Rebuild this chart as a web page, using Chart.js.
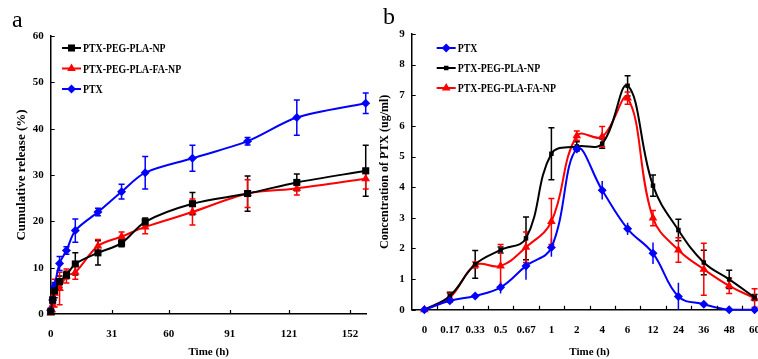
<!DOCTYPE html>
<html lang="en">
<head>
<meta charset="UTF-8">
<title>PTX release and plasma concentration</title>
<script src="https://cdn.jsdelivr.net/npm/chart.js@4.4.0/dist/chart.umd.min.js"></script>
<style>
    body {
        margin: 0;
        width: 758px;
        height: 359px;
        overflow: hidden;
        position: relative;
        background: #fff;
        font-family: 'Liberation Serif', 'Times New Roman', serif;
    }
    .panel-label {
        position: absolute;
        font-size: 24px;
        line-height: 24px;
        color: #000;
    }
    #releaseChart { position: absolute; left: 0; top: 0; }
    #plasmaChart { position: absolute; left: 374px; top: 0; }
</style>
</head>
<body>
<canvas id="releaseChart" width="380" height="359"></canvas>
<canvas id="plasmaChart" width="406" height="359"></canvas>
<div class="panel-label" style="left:12px; top:7px;">a</div>
<div class="panel-label" style="left:383px; top:4px;">b</div>

<script>
// ---- panel a: in vitro release ----
const releaseTimes = [0, 1, 2, 4.5, 8, 12.5, 24, 36, 48, 72, 100, 125, 160];
const releaseTicks = [0, 31, 60, 91, 121, 152];
const npRelease    = [0.5, 3.0, 5.0, 7.0, 8.4, 10.8, 13.2, 15.3, 19.9, 23.8, 26.0, 28.4, 30.9];
const npReleaseErr = [0.3, 0.8, 1.5, 1.2, 0.8, 2.4, 2.6, 0.8, 0.8, 2.4, 3.8, 1.8, 5.5];
const faRelease    = [0.2, 2.0, 4.5, 5.5, 8.2, 9.0, 14.7, 16.7, 18.8, 22.0, 26.0, 27.1, 29.2];
const faReleaseErr = [0.5, 1.5, 3.0, 3.5, 1.5, 1.5, 1.4, 1.0, 1.5, 2.8, 3.0, 1.4, 2.2];
const ptxRelease    = [0.8, 3.0, 6.0, 10.9, 13.7, 18.0, 22.0, 26.4, 30.5, 33.6, 37.3, 42.4, 45.5];
const ptxReleaseErr = [0.5, 0.6, 0.8, 1.5, 0.8, 2.5, 0.8, 1.6, 3.5, 2.8, 0.8, 3.8, 2.2];

// ---- panel b: plasma concentration ----
const timeLabels = ['0', '0.17', '0.33', '0.5', '0.67', '1', '2', '4', '6', '12', '24', '36', '48', '60'];
const ptxConc    = [0, 0.29, 0.45, 0.73, 1.43, 2.03, 5.25, 3.9, 2.64, 1.84, 0.43, 0.18, 0, 0];
const ptxConcErr = [0, 0.1, 0.08, 0.2, 0.45, 0.3, 0.1, 0.3, 0.2, 0.35, 0.45, 0.05, 0, 0];
const npConc     = [0, 0.45, 1.48, 1.95, 2.33, 5.09, 5.33, 5.42, 7.31, 4.05, 2.6, 1.54, 0.99, 0.4];
const npConcErr  = [0, 0.12, 0.45, 0.1, 0.7, 0.85, 0.15, 0.15, 0.33, 0.35, 0.35, 0.4, 0.3, 0.1];
const faConc     = [0, 0.39, 1.46, 1.43, 2.04, 2.88, 5.68, 5.65, 6.91, 2.99, 1.95, 1.32, 0.78, 0.38];
const faConcErr  = [0, 0.15, 0.1, 0.7, 0.5, 0.75, 0.15, 0.33, 0.2, 0.25, 0.4, 0.85, 0.25, 0.3];

const SERIF = "'Liberation Serif', 'Times New Roman', serif";
Chart.defaults.color = '#000';
Chart.defaults.font.family = SERIF;

function drawMarker(ctx, style, r, x, y, color) {
    ctx.fillStyle = color;
    ctx.beginPath();
    if (style === 'rect') {
        const s = r * Math.SQRT1_2;
        ctx.rect(x - s, y - s, 2 * s, 2 * s);
    } else if (style === 'rectRot') {
        ctx.moveTo(x, y - r); ctx.lineTo(x + r, y); ctx.lineTo(x, y + r); ctx.lineTo(x - r, y);
        ctx.closePath();
    } else {
        ctx.moveTo(x, y - r);
        ctx.lineTo(x + r * 0.866, y + r * 0.5);
        ctx.lineTo(x - r * 0.866, y + r * 0.5);
        ctx.closePath();
    }
    ctx.fill();
}

// error bars, drawn under lines and markers
const errorBars = {
    id: 'errorBars',
    beforeDatasetsDraw(chart) {
        const ctx = chart.ctx;
        const yScale = chart.scales.y;
        chart.data.datasets.forEach((ds, i) => {
            if (!ds.errors) return;
            const meta = chart.getDatasetMeta(i);
            ctx.save();
            ctx.strokeStyle = ds.borderColor;
            ctx.lineWidth = 1.5;
            meta.data.forEach((pt, j) => {
                const v = ds.data[j].y !== undefined ? ds.data[j].y : ds.data[j];
                const e = ds.errors[j];
                if (!e) return;
                const top = yScale.getPixelForValue(v + e);
                const bot = yScale.getPixelForValue(Math.max(0, v - e));
                ctx.beginPath();
                ctx.moveTo(pt.x, top); ctx.lineTo(pt.x, bot);
                if (ds.capWidth) {
                    const c = ds.capWidth / 2;
                    ctx.moveTo(pt.x - c, top); ctx.lineTo(pt.x + c, top);
                    ctx.moveTo(pt.x - c, bot); ctx.lineTo(pt.x + c, bot);
                }
                ctx.stroke();
            });
            ctx.restore();
        });
    }
};

// small tick marks pointing into the plot
const innerTicks = {
    id: 'innerTicks',
    afterDraw(chart) {
        const {ctx, chartArea, scales} = chart;
        ctx.save();
        ctx.strokeStyle = '#000';
        ctx.lineWidth = 1.2;
        ctx.beginPath();
        scales.y.ticks.forEach((t, i) => {
            const py = Math.round(scales.y.getPixelForTick(i)) + 0.5;
            ctx.moveTo(chartArea.left, py); ctx.lineTo(chartArea.left + 4, py);
        });
        const xs = scales.x;
        if (xs.type === 'category') {
            for (let i = 0; i < timeLabels.length - 1; i++) {
                const px = Math.round(xs.getPixelForValue(i + 0.5)) + 0.5;
                ctx.moveTo(px, chartArea.bottom); ctx.lineTo(px, chartArea.bottom - 4);
            }
        } else {
            xs.ticks.forEach((t, i) => {
                const px = Math.round(xs.getPixelForTick(i)) + 0.5;
                ctx.moveTo(px, chartArea.bottom); ctx.lineTo(px, chartArea.bottom - 4);
            });
        }
        ctx.stroke();
        ctx.restore();
    }
};

// legend drawn inside the plot, line + marker + label
const insideLegend = {
    id: 'insideLegend',
    afterDraw(chart, args, opts) {
        const ctx = chart.ctx;
        ctx.save();
        ctx.font = 'bold 12px ' + SERIF;
        ctx.textBaseline = 'middle';
        chart.data.datasets.forEach((ds, i) => {
            const y = opts.y + i * opts.gap;
            ctx.strokeStyle = ds.borderColor;
            ctx.lineWidth = 2;
            ctx.beginPath();
            ctx.moveTo(opts.x, y); ctx.lineTo(opts.x + 19, y);
            ctx.stroke();
            drawMarker(ctx, ds.pointStyle, ds.pointRadius, opts.x + 9.5, y, ds.borderColor);
            ctx.save();
            ctx.translate(opts.x + 21, y + 1);
            ctx.scale(0.82, 1);
            ctx.fillStyle = '#000';
            ctx.fillText(ds.label, 0, 0);
            ctx.restore();
        });
        ctx.restore();
    }
};

const tickFont = {family: SERIF, size: 11, weight: 'bold'};
const axisBorder = {display: true, color: '#000', width: 1.5};
const noGrid = {display: false, drawTicks: false};

function series(label, ys, errs, color, style, radius, cap) {
    return {
        label: label,
        data: ys,
        errors: errs,
        capWidth: cap,
        borderColor: color,
        backgroundColor: color,
        borderWidth: 2,
        pointStyle: style,
        pointRadius: radius,
        pointBorderWidth: 0,
        pointBackgroundColor: color,
        clip: false
    };
}

const toXY = ys => ys.map((y, i) => ({x: releaseTimes[i], y: y}));

new Chart(document.getElementById('releaseChart'), {
    type: 'line',
    data: {
        datasets: [
            series('PTX-PEG-PLA-NP', toXY(npRelease), npReleaseErr, '#000000', 'rect', 5, 6),
            series('PTX-PEG-PLA-FA-NP', toXY(faRelease), faReleaseErr, '#ff0000', 'triangle', 5, 6),
            series('PTX', toXY(ptxRelease), ptxReleaseErr, '#0000ff', 'rectRot', 4.5, 6)
        ]
    },
    options: {
        responsive: false,
        animation: false,
        elements: {line: {tension: 0.3}},
        layout: {padding: {left: 0, top: 36, right: 13.3, bottom: 0}},
        plugins: {
            legend: {display: false},
            tooltip: {enabled: false},
            insideLegend: {x: 62, y: 48, gap: 20.5}
        },
        scales: {
            x: {
                type: 'linear',
                min: 0,
                max: 160.5,
                afterBuildTicks: s => { s.ticks = releaseTicks.map(v => ({value: v})); },
                afterFit: s => { s.height = 45; },
                grid: noGrid,
                border: axisBorder,
                ticks: {font: tickFont, padding: 14, autoSkip: false, maxRotation: 0},
                title: {display: true, text: 'Time (h)', font: {family: SERIF, size: 11, weight: 'bold'}, padding: {top: 0, bottom: 0}}
            },
            y: {
                min: 0,
                max: 60,
                afterFit: s => { s.width = 50.7; },
                grid: noGrid,
                border: axisBorder,
                ticks: {stepSize: 10, font: tickFont, padding: 7},
                title: {display: true, text: 'Cumulative release (%)', font: {family: SERIF, size: 13, weight: 'bold'}, padding: {top: 14, bottom: 0}}
            }
        }
    },
    plugins: [errorBars, innerTicks, insideLegend]
});

new Chart(document.getElementById('plasmaChart'), {
    type: 'line',
    data: {
        labels: timeLabels,
        datasets: [
            series('PTX', ptxConc, ptxConcErr, '#0000ff', 'rectRot', 4.5, 0),
            series('PTX-PEG-PLA-NP', npConc, npConcErr, '#000000', 'rect', 3.2, 6),
            series('PTX-PEG-PLA-FA-NP', faConc, faConcErr, '#ff0000', 'triangle', 5, 6)
        ]
    },
    options: {
        responsive: false,
        animation: false,
        elements: {line: {tension: 0.4}},
        layout: {padding: {left: 0, top: 34, right: 12.7, bottom: 0}},
        plugins: {
            legend: {display: false},
            tooltip: {enabled: false},
            insideLegend: {x: 62.7, y: 48, gap: 20}
        },
        scales: {
            x: {
                type: 'category',
                offset: true,
                afterFit: s => { s.height = 49.3; },
                grid: {display: false, drawTicks: false, offset: true},
                border: axisBorder,
                ticks: {font: tickFont, padding: 14, autoSkip: false, maxRotation: 0},
                title: {display: true, text: 'Time (h)', font: {family: SERIF, size: 11, weight: 'bold'}, padding: {top: 0, bottom: 0}}
            },
            y: {
                min: 0,
                max: 9,
                afterFit: s => { s.width = 37.7; },
                grid: noGrid,
                border: axisBorder,
                ticks: {stepSize: 1, font: tickFont, padding: 7},
                title: {display: true, text: 'Concentration of PTX (ug/ml)', font: {family: SERIF, size: 12, weight: 'bold'}, padding: {top: 4, bottom: 0}}
            }
        }
    },
    plugins: [errorBars, innerTicks, insideLegend]
});
</script>
</body>
</html>
